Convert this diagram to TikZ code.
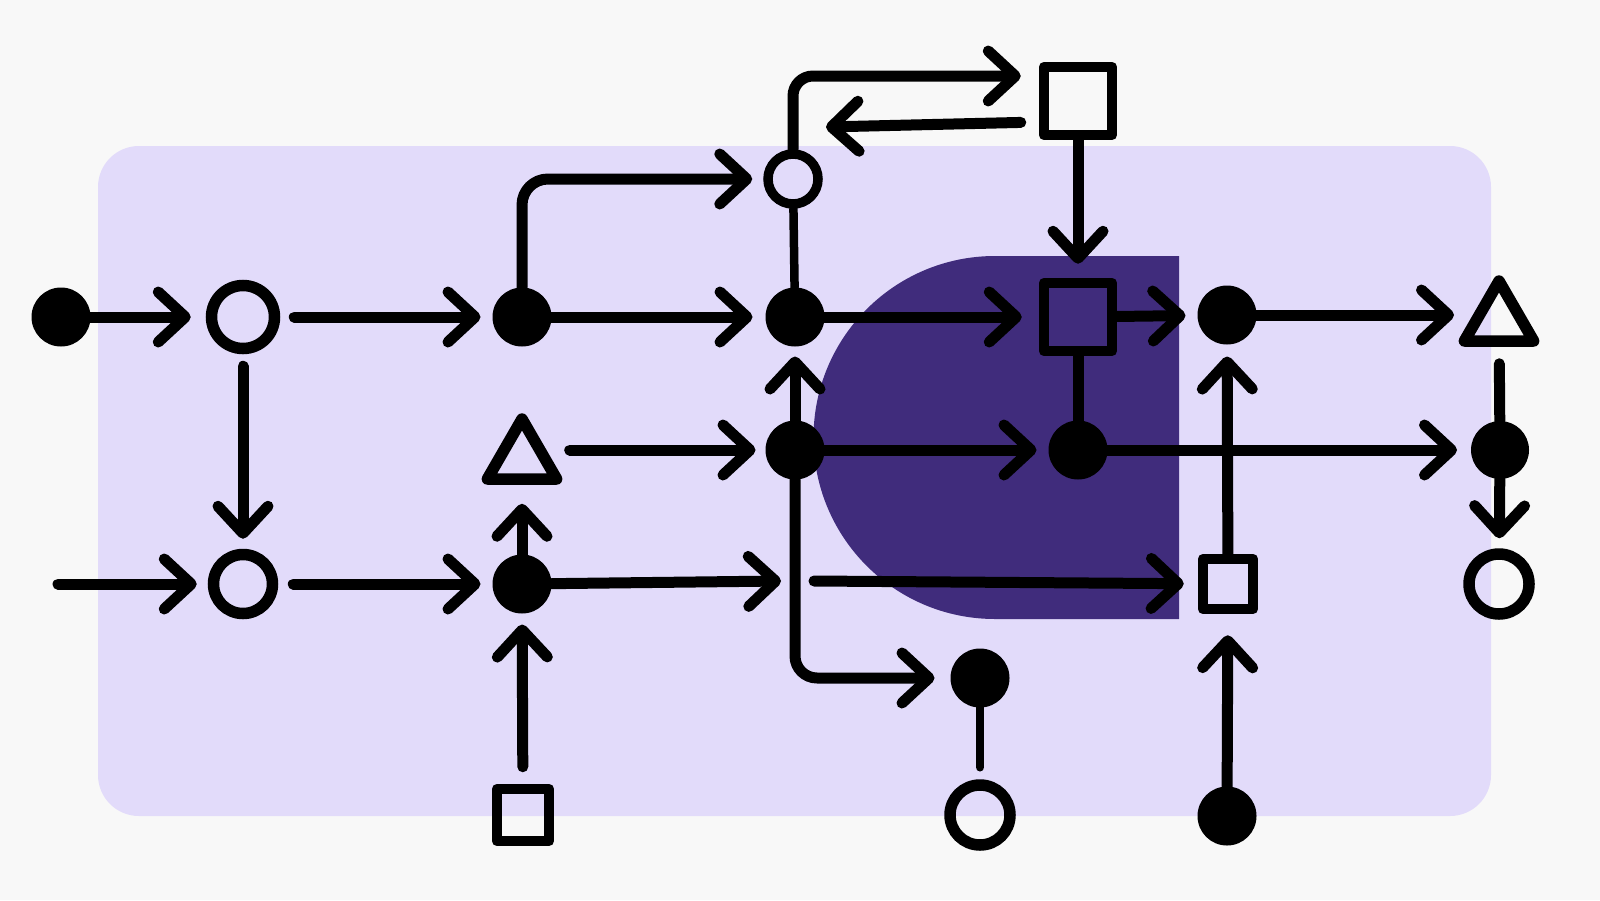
\documentclass[tikz,border=0pt]{standalone}
\usetikzlibrary{arrows.meta,shapes.geometric}
\definecolor{bgc}{RGB}{248,248,248}
\definecolor{lav}{RGB}{226,219,250}
\definecolor{deep}{RGB}{64,44,124}
\begin{document}
\begin{tikzpicture}[x=1pt,y=-1pt,
  nfill/.style={circle,fill=black,minimum size=59pt,inner sep=0pt,outer sep=0pt},
  nring/.style={circle,draw=black,line width=11.5pt,minimum size=63pt,inner sep=0pt},
  nbox/.style={rectangle,draw=black,line width=10.5pt,line join=round,minimum size=68pt,inner sep=0pt},
  ntri/.style={regular polygon,regular polygon sides=3,draw=black,line width=11.5pt,line join=round,minimum size=80pt,inner sep=0pt},
  lnk/.style={line width=11pt,line cap=round,line join=round},
  arw/.style={lnk,-{Straight Barb[length=27pt,width=50pt,round]}},
]
\fill[bgc] (0,0) rectangle (1600,900);
\useasboundingbox (0,0) rectangle (1600,900);
\fill[lav, rounded corners=41pt] (98,146) rectangle (1491,816);
\fill[deep] (1179,256) -- (995,256) arc[start angle=90,end angle=270,radius=181.5pt] -- (1179,619) -- cycle;

\node[nfill] (A) at (61,317) {};
\node[nring] (B) at (243,317) {};
\node[nfill] (C) at (522,317) {};
\node[nfill] (D) at (795,317) {};
\node[nbox] (E) at (1078,317) {};
\node[nfill] (F) at (1227,315) {};
\node[ntri] (G) at (1499,321) {};
\node[nring, minimum size=50pt, line width=9.5pt] (H) at (793,179) {};
\node[nbox] (I) at (1078,101) {};
\node[ntri] (J) at (522,459) {};
\node[nfill] (K) at (795,450) {};
\node[nfill] (L) at (1078,450) {};
\node[nfill, minimum size=58pt] (M) at (1500,450) {};
\node[nring, minimum size=59pt] (N) at (243,584) {};
\node[nfill] (O) at (522,584) {};
\node[nbox, minimum size=50pt] (P) at (1228,584) {};
\node[nring, minimum size=60pt] (Q) at (1499,584) {};
\node[nbox, minimum size=52pt] (R) at (523,815) {};
\node[nfill] (S) at (980,678) {};
\node[nring, minimum size=60pt] (T) at (980,815) {};
\node[nfill] (U) at (1227,816) {};

\coordinate (hin) at (826,127);
\coordinate (nin) at (58,584);
\coordinate (omid) at (781,581);
\coordinate (pin) at (814,581);

\draw[arw, shorten >=15pt] (A) -- (B);
\draw[arw, shorten <=14pt, shorten >=12pt] (B) -- (C);
\draw[arw, shorten >=13pt] (C) -- (D);
\draw[arw, rounded corners=26pt, shorten >=11pt] (C.north) |- (H.west);
\draw[arw, shorten >=17pt] (D) -- (E);
\draw[arw, shorten >=12pt] (E) -- (F);
\draw[arw, shorten >=45pt] (F) -- (F -| G);
\draw[lnk, line width=8.5pt] (H) -- (D);
\draw[arw, rounded corners=20pt, shorten >=18pt] (H.north) |- ([yshift=25pt]I.west);
\draw[arw, shorten <=18pt] ([yshift=-21pt]I.west) -- (hin);
\draw[arw, shorten >=14pt] (I) -- (E);
\draw[lnk] (E) -- (L);
\draw[arw, shorten <=18pt, shorten >=10pt] (J.east |- K.west) -- (K);
\draw[arw, shorten >=12pt] (K) -- (L);
\draw[arw, shorten >=14pt] (L) -- (M);
\draw[arw, shorten >=10pt] (K) -- (D);
\draw[arw, rounded corners=22pt, shorten >=16pt] (K.south) |- (S.west);
\draw[arw, shorten >=19pt] (O) -- (J);
\draw[arw, shorten <=17pt, shorten >=11pt] (R) -- (O);
\draw[arw, shorten <=12pt, shorten >=10pt] (B) -- (N);
\draw[arw, shorten >=11pt] (nin) -- (N);
\draw[arw, shorten <=15pt, shorten >=12pt] (N) -- (O);
\draw[arw] (O) -- (omid);
\draw[arw, shorten >=14pt] (pin) -- (P);
\draw[arw, shorten >=12pt] (P) -- (F);
\draw[arw, shorten >=21pt] (U) -- (P);
\draw[lnk, line width=8.5pt, shorten >=12pt] (S) -- (T);
\draw[lnk, shorten <=17pt] (G) -- (M);
\draw[arw, shorten >=10pt] (M) -- (Q);
\end{tikzpicture}
\end{document}
